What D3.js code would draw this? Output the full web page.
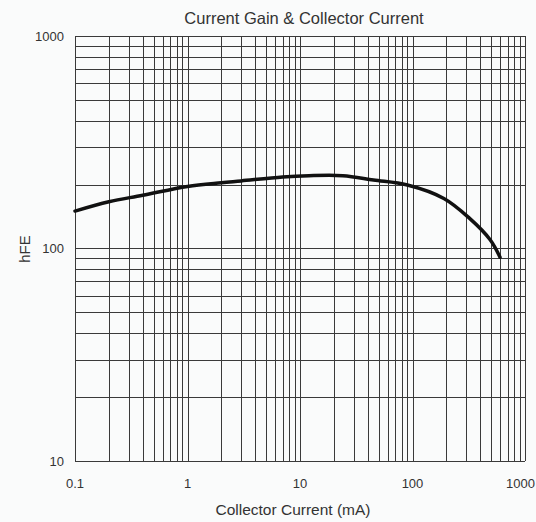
<!DOCTYPE html>
<html>
<head>
<meta charset="utf-8">
<script src="https://cdn.jsdelivr.net/npm/d3@7"></script>
<style>
  body { margin: 0; background: #fafbfb; }
  svg { display: block; font-family: "Liberation Sans", Arial, sans-serif; }
  .grid line { stroke: #3a3a3a; stroke-width: 1; shape-rendering: crispEdges; }
  .tick-label { fill: #333; font-size: 13px; }
</style>
</head>
<body>
<svg width="536" height="522"></svg>
<script>
// Curve
const currentMA = [0.1, 0.2, 0.4, 1, 2, 3, 7, 12, 24, 45, 90, 190, 320, 490, 600];
const hfe = [150, 166, 178, 196, 204, 208, 217, 220, 220, 210, 199, 172, 139, 110, 91];

const xTicks = [0.1, 1, 10, 100, 1000];
const yTicks = [10, 100, 1000];

const svg = d3.select("svg");

// plot box (top/left are taken by window globals, so prefix them)
const plotLeft = 75, plotRight = 525, plotTop = 36, plotBottom = 461;

const x = d3.scaleLog().domain([0.1, 1000]).range([plotLeft, plotRight]);
const y = d3.scaleLog().domain([10, 1000]).range([plotBottom, plotTop]);

// minor + major grid lines for each decade
const xGrid = x.ticks();
const yGrid = y.ticks();

const grid = svg.append("g").attr("class", "grid");

grid.selectAll("line.v")
  .data(xGrid)
  .enter()
  .append("line")
  .attr("class", "v")
  .attr("x1", (d) => Math.round(x(d)) + 0.5)
  .attr("x2", (d) => Math.round(x(d)) + 0.5)
  .attr("y1", plotTop)
  .attr("y2", plotBottom);

grid.selectAll("line.h")
  .data(yGrid)
  .enter()
  .append("line")
  .attr("class", "h")
  .attr("x1", plotLeft)
  .attr("x2", plotRight)
  .attr("y1", (d) => Math.round(y(d)) + 0.5)
  .attr("y2", (d) => Math.round(y(d)) + 0.5);

// tick labels - last one pulled in so it stays inside the window
svg.selectAll("text.xt")
  .data(xTicks)
  .enter()
  .append("text")
  .attr("class", "tick-label xt")
  .attr("x", (d, i) => (i === xTicks.length - 1 ? 535 : x(d)))
  .attr("y", plotBottom + 27)
  .attr("text-anchor", (d, i) => (i === xTicks.length - 1 ? "end" : "middle"))
  .text((d) => d);

svg.selectAll("text.yt")
  .data(yTicks)
  .enter()
  .append("text")
  .attr("class", "tick-label yt")
  .attr("x", plotLeft - 11)
  .attr("y", (d) => y(d))
  .attr("dy", "0.35em")
  .attr("text-anchor", "end")
  .text((d) => d);

// the hFE curve
const line = d3.line()
  .x((d, i) => x(currentMA[i]))
  .y((d) => y(d))
  .curve(d3.curveCatmullRom.alpha(0.5));

svg.append("path")
  .datum(hfe)
  .attr("d", line)
  .attr("fill", "none")
  .attr("stroke", "#111")
  .attr("stroke-width", 3.5)
  .attr("stroke-linecap", "round");

// titles
svg.append("text")
  .attr("x", 304)
  .attr("y", 24)
  .attr("text-anchor", "middle")
  .attr("fill", "#333")
  .style("font-size", "16.5px")
  .text("Current Gain & Collector Current");

svg.append("text")
  .attr("x", 293)
  .attr("y", 515)
  .attr("text-anchor", "middle")
  .attr("fill", "#333")
  .style("font-size", "15.5px")
  .text("Collector Current (mA)");

svg.append("text")
  .attr("transform", "translate(29.5, 249) rotate(-90)")
  .attr("text-anchor", "middle")
  .attr("fill", "#333")
  .style("font-size", "15px")
  .text("hFE");
</script>
</body>
</html>
